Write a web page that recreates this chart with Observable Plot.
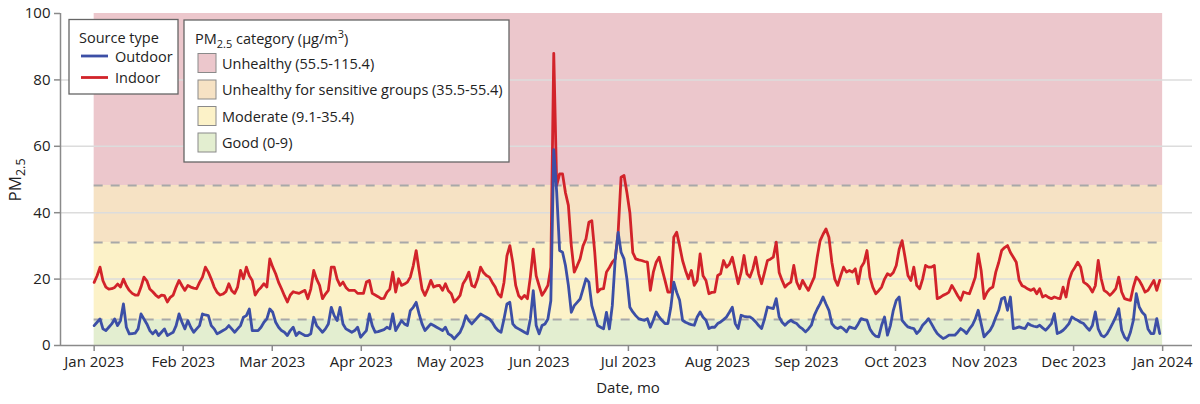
<!DOCTYPE html>
<html><head><meta charset="utf-8">
<script src="https://cdn.jsdelivr.net/npm/d3@7"></script>
<script src="https://cdn.jsdelivr.net/npm/@observablehq/plot@0.6"></script>
<style>body{margin:0;background:#fff;font-family:"Open Sans",sans-serif}</style>
</head><body><div id="chart"></div><script>
// Daily PM2.5 values, day 0 = 1 Jan 2023
const outdoor = [6,7,8,5,4.5,5.5,6.5,8,6,7.5,12.5,5.5,3.5,3.6,3.7,5,9.5,8,6.5,4.5,3.5,4.5,3,4,5,3,3.5,4,6,9.5,7,5,7.5,5.5,4,5,6,9.5,9.2,9,6,5,3.5,4,4.5,5,6,5,4,5,6,8.5,9,11,4.5,4.5,4.5,5.5,7,8,11,10,7,5.5,4.5,4,3,4.5,5.5,3,4,3.5,3,3,3.5,8.5,6,5,4,5,6.5,11.5,9,7.5,11.5,6.5,5,4.5,4,4.5,5.5,2.5,3.5,4.5,9.5,6,4,4.2,4.5,4.8,5.5,5,9.5,4.5,6,7.5,6.5,6,10.5,11.5,13,9.5,6.5,4.5,5.5,6.5,6,5.5,5,4.5,5.5,3.5,3,2,3,4,6,9,7.5,6.5,7.5,8.5,9.5,9,8.5,8,7,5.5,4.5,4,8,12.5,13,6.5,5.5,5,4.5,4,3.5,8,16.5,6,3.5,6,6.5,8,13.5,59,46.2,28.6,28.1,24.1,18.1,10,12,13,14,17,20.1,19.1,12,9,6,5.5,5,10,5,12,26.1,34.1,28.1,26.1,20,11.5,10.1,9,8.1,7.8,7.6,8.1,5.5,7.6,10.1,8.6,7.5,6.6,6.6,11.5,19.1,16,13.6,7.6,7,6.6,6.3,6.1,8.6,10.1,8.5,7.6,5.1,5.5,5.5,6.6,7.1,7.8,8.6,10,11.5,6.6,5.1,9.1,8.8,8.6,8.6,8,7.1,6,5.1,8,11.6,11.3,11.1,14.1,8.6,7,6.1,7,7.6,7,6.6,5.6,5,4.1,5,6.1,9.1,11,12.6,14.6,12.5,10.6,6.6,5.5,5.1,5.6,5,4.1,5.6,5.3,5.1,6.5,8.1,7.8,7.6,5,3.6,2.8,2.6,6.1,8.6,3.1,6,10.6,13.6,14.6,7.6,6.5,5.6,5.3,5.1,3.6,4.5,6.1,7,8.1,6.6,5,3.6,2.8,2.1,2.5,3.1,3.1,3.1,4,5.1,4.5,3.6,5,6.1,8,10.6,6.6,2.6,3.6,4.5,6.1,8.5,10.6,14.1,14.5,10.6,14.6,5.1,5.3,5.6,5.3,5.1,6.6,6.1,5.8,5.6,6.1,5.3,4.6,5.5,6.6,9.6,3.6,4,4.6,5.5,6.6,8.6,8,7.6,7,6.6,5.5,4.6,6,10.1,5,3.1,2.6,3.5,5.1,6.8,8.6,11.1,4.6,2.5,1.6,4,7.6,15.6,11.6,10,9.1,5,3.6,3.6,8.1,3.6];
const indoor = [19,21,23.6,19.5,17.6,17,17.1,17.5,18.5,17.6,20,18,16.6,15.7,15.2,15.2,17.6,20.6,19.5,17,16.2,15.2,14.5,15.2,15,13.1,14.5,15.2,17.6,19.6,18,16.6,18.1,17.6,17.3,17.1,19,20.6,23.6,22.1,20,17.6,16,15.2,15.5,16.2,18.6,16.5,15.7,17.6,22.6,20.1,23.6,21,19.6,15.2,16.6,17.5,18.6,17.6,26.1,23.6,21.6,19,17.1,15,13.1,15.2,16.2,15.9,15.7,16.2,16.6,14.1,17,22.6,20,18.1,14.1,15.5,16.6,23.6,23.6,20,18.1,19.1,17.5,16.6,16.6,16.6,15.7,15.7,15.7,19.1,19.6,15.7,15.2,14.7,14.1,14.2,16,17,22.1,16.1,20.1,18.1,18.5,19.1,20.6,24,28.6,22.6,17,15.1,17.1,19.6,17.6,18,18.1,16.6,18.6,16.5,15.6,13.1,14,15.1,18.6,20,22.1,18.1,17.6,20,23.6,22,21.1,20.6,19,17.6,15.5,14.6,19,27,30.1,25,18.1,15,14.1,15.1,14.1,20.6,29,21,18,15.1,16.5,18.1,23.6,88,48.2,51.7,51.7,46,42.2,30.1,22.1,24,26.1,30,32.1,37.1,37.6,28.1,16.1,17,17.1,22.1,23.5,25.1,26.1,34.1,50.7,51.2,46,40,28,26.1,25.8,25.6,25.3,25.1,16.6,22,25.1,26.6,23,19.6,16.1,16.1,32.6,34.1,30,25.6,22.6,20.1,22.6,18.1,19.6,27.6,21,19.6,15.6,16,16.1,21.1,21.6,25.6,23.6,24.5,26.6,22.6,18.6,22,27.1,21.6,20.6,23,26.6,21.6,18.6,22,25.6,26,26.6,31.1,22,19.6,17.6,18.5,19.1,24.1,19.1,17.1,19.6,18,16.6,18.6,20.6,26.6,31.6,33.5,35.1,32.6,25.1,20,18.1,21,23.6,22.1,22.6,22.1,23.1,18.6,23.6,25,28.6,20.6,17.5,15.6,16.5,17.6,20,21.6,21.1,22,24.1,29,31.6,26.6,21.1,19.6,23.6,18.1,17.1,20,24.1,23.6,23.6,24.1,14.1,14.5,15.1,15.5,16.1,18.1,16.6,15,13.6,16.1,15.8,15.6,18,20.6,27.6,22.6,14.1,16,17.1,17.6,22.1,25,28.6,29.5,30.1,28,26.6,25.1,19.6,18,17.6,17,16.6,17.1,15.6,17.1,14.6,15.1,14.5,14.1,14.6,14.3,14.1,17.6,14.6,19.6,22.1,23.5,25.1,23.6,19.1,18.5,17.6,16.1,18,25.6,20.1,16.6,16,15.1,16,17.1,20.6,16.1,14.1,13.8,13.6,17.6,20.6,19.6,18,16.1,16.6,18.1,19.6,16.6,19.6];

const tickLabels = ["Jan 2023","Feb 2023","Mar 2023","Apr 2023","May 2023","Jun 2023","Jul 2023","Aug 2023","Sep 2023","Oct 2023","Nov 2023","Dec 2023","Jan 2024"];
const yTicks = [0,20,40,60,80,100];
const gridValues = [20,40,60,80];

const categoryNames = ["Unhealthy (55.5-115.4)","Unhealthy for sensitive groups (35.5-55.4)","Moderate (9.1-35.4)","Good (0-9)"];
const categoryLow = [48.2, 31, 7.8, 0];
const categoryHigh = [100, 48.2, 31, 7.8];
const categoryColors = ["#ecc7cc","#f6e2c4","#fcf2c8","#e3eed0"];
const bandBoundaries = [7.8, 31, 48.2];

const seriesNames = ["Outdoor","Indoor"];
const seriesColors = ["#3c4fa6","#d2232a"];

const yearDays = 365;
const tickStep = yearDays / 12;
const tickPositions = tickLabels.map((_, i) => i * tickStep);

const bands = categoryNames.map((name, i) => ({name, y1: categoryLow[i], y2: categoryHigh[i], fill: categoryColors[i]}));
const outdoorData = outdoor.map((v, i) => ({day: i, value: v}));
const indoorData = indoor.map((v, i) => ({day: i, value: v}));

const axisColor = "#8a8a8a";
const font = "Open Sans, sans-serif";

const chart = Plot.plot({
  width: 1200,
  height: 404,
  marginTop: 13,
  marginBottom: 59,
  marginLeft: 60,
  marginRight: 8,
  style: {fontFamily: font, fontSize: "15px", color: "#222", background: "#fff"},
  x: {domain: [-11.5, 375.2]},
  y: {domain: [0, 100]},
  marks: [
    Plot.rect(bands, {x1: 0, x2: yearDays, y1: "y1", y2: "y2", fill: "fill"}),
    Plot.gridY(gridValues, {stroke: "#dcdcdc", strokeOpacity: 1, strokeWidth: 1.5}),
    Plot.ruleY(bandBoundaries, {x1: 0, x2: yearDays, stroke: "#a8a8a8", strokeWidth: 2, strokeDasharray: "9,8"}),
    Plot.line(indoorData, {x: "day", y: "value", stroke: seriesColors[1], strokeWidth: 2.8}),
    Plot.line(outdoorData, {x: "day", y: "value", stroke: seriesColors[0], strokeWidth: 2.8}),
    Plot.ruleX([-11.5], {stroke: axisColor, strokeWidth: 1.5}),
    Plot.ruleY([0], {stroke: axisColor, strokeWidth: 1.5}),
    Plot.axisY(yTicks, {tickSize: 6, tickPadding: 4, stroke: axisColor, strokeWidth: 1.5, fill: "#222", fontSize: 15, label: null}),
    Plot.axisX(tickPositions, {tickSize: 6, tickPadding: 5, stroke: axisColor, strokeWidth: 1.5, fill: "#222", fontSize: 15, label: null,
      tickFormat: d => tickLabels[Math.round(d / tickStep)]})
  ]
});
document.getElementById("chart").appendChild(chart);

const svg = d3.select(chart);
const g = svg.append("g").attr("font-family", font).attr("fill", "#222").attr("text-anchor", "start");
const legendSize = 14.5;

// Y axis label with subscript
const yl = g.append("text").attr("transform", "translate(21,180) rotate(-90)").attr("text-anchor", "middle").attr("font-size", 17);
yl.append("tspan").text("PM");
yl.append("tspan").attr("font-size", 12.5).attr("dy", 4).text("2.5");

// X axis label
g.append("text").attr("x", 628).attr("y", 393).attr("text-anchor", "middle").attr("font-size", 15).text("Date, mo");

// Source type legend
g.append("rect").attr("x", 69).attr("y", 19.5).attr("width", 109).attr("height", 74.5).attr("fill", "#fff").attr("stroke", "#666").attr("stroke-width", 1.3);
g.append("text").attr("x", 79).attr("y", 43).attr("font-size", legendSize).text("Source type");
seriesNames.forEach((name, i) => {
  const y = 56 + i * 21.5;
  g.append("line").attr("x1", 81).attr("x2", 108).attr("y1", y).attr("y2", y).attr("stroke", seriesColors[i]).attr("stroke-width", 2.8);
  g.append("text").attr("x", 115).attr("y", y + 5.5).attr("font-size", legendSize).text(name);
});

// Category legend
g.append("rect").attr("x", 184).attr("y", 20).attr("width", 325).attr("height", 142).attr("fill", "#fff").attr("stroke", "#666").attr("stroke-width", 1.3);
const ct = g.append("text").attr("x", 195).attr("y", 44).attr("font-size", legendSize);
ct.append("tspan").text("PM");
ct.append("tspan").attr("font-size", 11).attr("dy", 4).text("2.5");
ct.append("tspan").attr("dy", -4).text(" category (µg/m");
ct.append("tspan").attr("font-size", 11).attr("dy", -6).text("3");
ct.append("tspan").attr("dy", 6).text(")");
categoryNames.forEach((name, i) => {
  const base = 68.5 + i * 26.5;
  g.append("rect").attr("x", 198).attr("y", base - 15).attr("width", 18).attr("height", 19).attr("fill", categoryColors[i]).attr("stroke", "#8a8a8a").attr("stroke-width", 1);
  g.append("text").attr("x", 222).attr("y", base).attr("font-size", legendSize).text(name);
});
</script></body></html>
